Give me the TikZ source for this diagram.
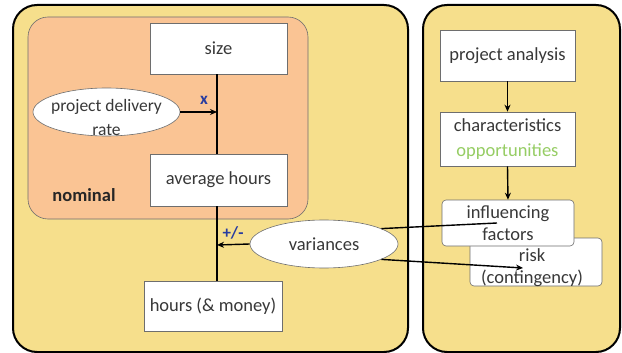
\documentclass[tikz,border=0pt]{standalone}
\usepackage{fontspec}
\setmainfont{Carlito}
\usetikzlibrary{shapes.geometric,arrows.meta}
\definecolor{panelY}{RGB}{246,223,140}
\definecolor{nomO}{RGB}{250,196,148}
\definecolor{boxG}{RGB}{110,110,110}
\definecolor{lblB}{RGB}{40,60,160}
\definecolor{oppG}{RGB}{150,205,100}
\tikzset{
  panel/.style={draw=black, line width=2pt, fill=panelY, rounded corners=24pt},
  wbox/.style={draw=boxG, line width=0.6pt, fill=white, inner sep=0pt, font=\fontsize{18.5}{22}\selectfont, text=black!78},
  oval/.style={ellipse, draw=boxG, line width=0.6pt, fill=white, inner sep=0pt, font=\fontsize{18.5}{22}\selectfont, text=black!78, align=center},
  conn/.style={line width=1.4pt, black},
  arr/.style={conn, -{Stealth[length=7pt,width=6pt]}},
  lbl/.style={text=lblB, font=\bfseries\fontsize{17}{18}\selectfont}
}
\begin{document}
\begin{tikzpicture}[x=1pt,y=-1pt]
\useasboundingbox (0,0) rectangle (622,353);
% panels
\draw[panel] (13,5) rectangle (408,352);
\draw[panel] (423,5) rectangle (620,352);
% nominal region
\draw[draw=boxG, line width=0.6pt, fill=nomO, rounded corners=20pt] (28,17) rectangle (308,219);
\node[font=\bfseries\fontsize{18.5}{20}\selectfont, text=black!85] (nom) at (84,195) {nominal};
% boxes
\node[wbox, minimum width=137pt, minimum height=51pt] (size) at (218.5,48.5) {size};
\node[wbox, minimum width=137pt, minimum height=52pt] (avg) at (218.5,180) {average hours};
\node[wbox, minimum width=138pt, minimum height=50pt] (hours) at (213,306) {hours (\&{} money)};
\node[oval, minimum width=147pt, minimum height=48pt] (pdr) at (106.5,112) {};
\node[wbox, draw=none, fill=none, align=center, font=\fontsize{17.5}{24}\selectfont] (pdrtxt) at (106.5,117) {project delivery\\rate};
\node[oval, minimum width=148pt, minimum height=48pt] (var) at (324,244) {variances};
% right side
\node[wbox, minimum width=135pt, minimum height=51pt] (pa) at (507.5,55.5) {project analysis};
\node[wbox, minimum width=135pt, minimum height=54pt, align=center] (ch) at (507.5,139) {characteristics\\[3pt]\textcolor{oppG}{opportunities}};
\node[wbox, rounded corners=4pt, minimum width=132pt, minimum height=48pt] (risk) at (536,262) {};
\node[wbox, draw=none, fill=none, align=center] (risktxt) at (532,268) {risk\\(contingency)};
\node[wbox, rounded corners=4pt, minimum width=132pt, minimum height=46pt, align=center] (inf) at (508,223) {influencing\\factors};
% connectors
\coordinate (j1) at (217,112);
\coordinate (j2) at (217,245);
\draw[conn] (size.south -| j1) -- (avg.north -| j1);
\draw[conn] (avg.south -| j2) -- (hours.north -| j2);
\draw[arr] (pdr.east) -- (j1);
\draw[arr] (var.west) -- (j2);
\node[lbl] (xl) at (204,100) {x};
\node[lbl] (pm) at (233,233) {+/-};
\draw[arr] (pa.south) -- (ch.north);
\draw[arr] (ch.south) -- (inf.north);
\coordinate (ie) at (497,223);
\coordinate (re) at (523,268);
\draw[conn] (var.15) -- (ie);
\draw[arr] (var.-15) -- (re);
\end{tikzpicture}
\end{document}
